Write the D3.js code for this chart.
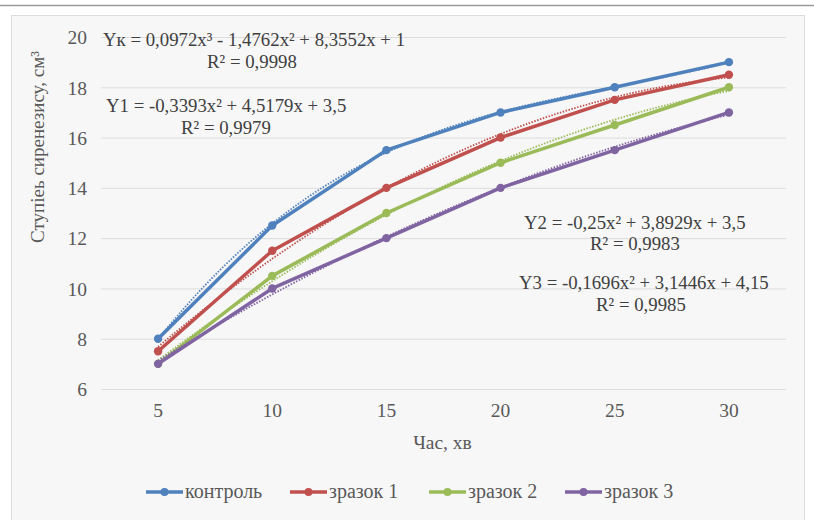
<!DOCTYPE html>
<html>
  <head>
    <style>
      body { margin: 0; background: #fff; }
      svg text { font-family: "Liberation Serif", "Times New Roman", serif; }
      .grid line { stroke: #dcdcdc; stroke-width: 1px; }
      .axis path, .axis line { display: none; }
      .axis text { fill: #595959; font-size: 19.5px; }
      .eq { fill: #404040; font-size: 18.8px; }
    </style>
    <script src="https://d3js.org/d3.v7.min.js"></script>
  </head>
  <body>
    <svg class="chart"></svg>

    <script>
      const times = [5, 10, 15, 20, 25, 30];
      const yTicks = [6, 8, 10, 12, 14, 16, 18, 20];

      const control = [8, 12.5, 15.5, 17, 18, 19];
      const sample1 = [7.5, 11.5, 14, 16, 17.5, 18.5];
      const sample2 = [7, 10.5, 13, 15, 16.5, 18];
      const sample3 = [7, 10, 12, 14, 15.5, 17];

      // trendline coefficients as printed on the chart (x = point index 1..6)
      const trendK = [1, 8.3552, -1.4762, 0.0972];
      const trend1 = [3.5, 4.5179, -0.3393];
      const trend2 = [3.5, 3.8929, -0.25];
      const trend3 = [4.15, 3.1446, -0.1696];

      const seriesNames = ['контроль', 'зразок 1', 'зразок 2', 'зразок 3'];
      const seriesValues = [control, sample1, sample2, sample3];
      const trendCoefs = [trendK, trend1, trend2, trend3];
      const colors = ['#4F81BD', '#C0504D', '#9BBB59', '#8064A2'];

      const FONT = '"Liberation Serif", "Times New Roman", serif';
      const width = 814;
      const height = 520;
      const margin = { top: 37, right: 28, bottom: 131, left: 101 };
      const w = width - margin.left - margin.right;
      const h = height - margin.top - margin.bottom;

      const root = d3.select('svg')
        .attr('width', width)
        .attr('height', height)
        .attr('font-family', FONT);

      // page frame
      root.append('line')
        .attr('x1', 0).attr('x2', width).attr('y1', 5.5).attr('y2', 5.5)
        .attr('stroke', '#9a9a9a').attr('stroke-width', 1.5);
      root.append('rect')
        .attr('x', 11.5).attr('y', 15.5).attr('width', 793).attr('height', 520)
        .attr('fill', '#f7f7f7').attr('stroke', '#dedede');

      const svg = root.append('g')
        .attr('transform', `translate(${margin.left},${margin.top})`);

      const xScale = d3.scaleBand().domain(times).range([0, w]);
      const xc = t => xScale(t) + xScale.bandwidth() / 2;
      const yScale = d3.scaleLinear().domain([6, 20]).range([h, 0]);
      // trend x is the point index (1..6)
      const xIdx = d3.scaleLinear().domain([1, 6]).range([xc(times[0]), xc(times[5])]);

      svg.append('g').attr('class', 'grid')
        .call(d3.axisLeft(yScale).tickValues(yTicks).tickSize(-w).tickFormat(''))
        .call(g => g.select('.domain').remove());

      svg.append('g').attr('class', 'axis')
        .attr('transform', `translate(0,${h})`)
        .call(d3.axisBottom(xScale).tickSizeOuter(0))
        .attr('font-family', FONT)
        .selectAll('text').attr('y', 14).attr('dy', '0.71em');

      svg.append('g').attr('class', 'axis')
        .call(d3.axisLeft(yScale).tickValues(yTicks))
        .attr('font-family', FONT)
        .selectAll('text').attr('x', -14).attr('dy', '0.35em');

      svg.append('text')
        .attr('x', w / 2 - 1).attr('y', h + 60)
        .attr('text-anchor', 'middle').attr('fill', '#595959').attr('font-size', 19.5)
        .text('Час, хв');

      svg.append('text')
        .attr('transform', `translate(-57,110) rotate(-90)`)
        .attr('text-anchor', 'middle').attr('fill', '#595959').attr('font-size', 19)
        .text('Ступіеь сиренезису, см³');

      const line = d3.line()
        .x((d, i) => xc(times[i]))
        .y(d => yScale(d));

      const trendLine = d3.line()
        .x(d => xIdx(d[0]))
        .y(d => yScale(d[1]));

      const steps = d3.range(1, 6.001, 0.05);

      seriesValues.forEach((vals, k) => {
        const c = trendCoefs[k];
        const pts = steps.map(x => [x, c.reduce((s, a, p) => s + a * Math.pow(x, p), 0)]);
        svg.append('path')
          .datum(pts)
          .attr('d', trendLine)
          .attr('fill', 'none')
          .attr('stroke', colors[k])
          .attr('stroke-width', 1.8)
          .attr('stroke-dasharray', '1.5,1.5');

        svg.append('path')
          .datum(vals)
          .attr('d', line)
          .attr('fill', 'none')
          .attr('stroke', colors[k])
          .attr('stroke-width', 3.5)
          .attr('stroke-linejoin', 'round');

        svg.selectAll(null)
          .data(vals)
          .join('circle')
          .attr('cx', (d, i) => xc(times[i]))
          .attr('cy', d => yScale(d))
          .attr('r', 4.2)
          .attr('fill', colors[k]);
      });

      // equation labels
      const eqs = [
        { x: 103, y: 46, anchor: 'start', t: 'Yк = 0,0972x³ - 1,4762x² + 8,3552x + 1' },
        { x: 252, y: 68, anchor: 'middle', t: 'R² = 0,9998' },
        { x: 106, y: 112, anchor: 'start', t: 'Y1 = -0,3393x² + 4,5179x + 3,5' },
        { x: 226, y: 134, anchor: 'middle', t: 'R² = 0,9979' },
        { x: 524, y: 229, anchor: 'start', t: 'Y2 = -0,25x² + 3,8929x + 3,5' },
        { x: 635, y: 250, anchor: 'middle', t: 'R² = 0,9983' },
        { x: 519, y: 289, anchor: 'start', t: 'Y3 = -0,1696x² + 3,1446x + 4,15' },
        { x: 641, y: 311, anchor: 'middle', t: 'R² = 0,9985' }
      ];
      root.selectAll('.eq')
        .data(eqs)
        .join('text')
        .attr('class', 'eq')
        .attr('x', d => d.x).attr('y', d => d.y)
        .attr('text-anchor', d => d.anchor)
        .text(d => d.t);

      // legend
      const legendX = [146, 290, 429, 565];
      const legend = root.append('g').attr('transform', 'translate(0,492)');
      seriesNames.forEach((name, k) => {
        const g = legend.append('g').attr('transform', `translate(${legendX[k]},0)`);
        g.append('line').attr('x1', 0).attr('x2', 37).attr('y1', 0).attr('y2', 0)
          .attr('stroke', colors[k]).attr('stroke-width', 3.5);
        g.append('circle').attr('cx', 18.5).attr('cy', 0).attr('r', 4).attr('fill', colors[k]);
        g.append('text').attr('x', 39).attr('y', 0).attr('dy', '0.32em')
          .attr('fill', '#595959').attr('font-size', 20)
          .text(name);
      });
    </script>
  </body>
</html>
